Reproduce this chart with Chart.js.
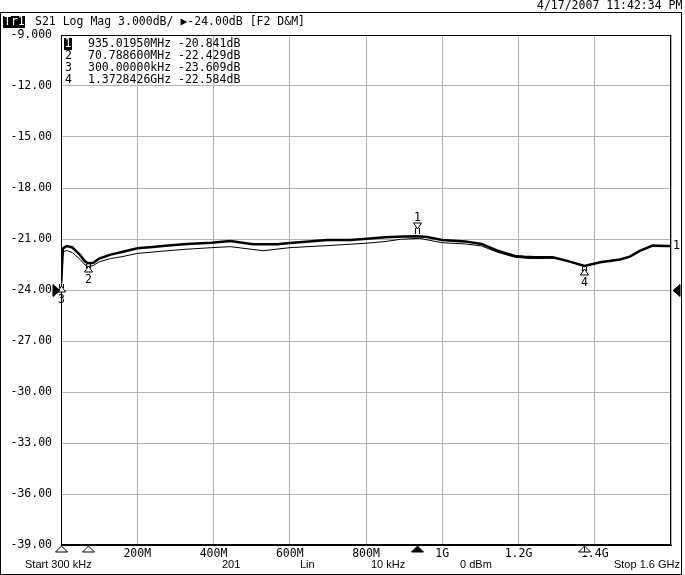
<!doctype html>
<html>

<head>
	<title>S21 Log Mag</title>
	<script src="https://cdn.jsdelivr.net/npm/chart.js@4"></script>
	<style>
		body { margin: 0; background: #fff; }
	</style>
</head>

<body>
	<canvas id="chart-area" width="685" height="575"></canvas>

	<script>
		// trace (data), MHz / dB
		const dataFreq = [0.3, 5, 15, 30, 50, 62, 70.8, 85, 100, 130, 160, 200, 240, 274, 330, 395, 444, 504, 567, 600,
			650, 698, 758, 802, 850, 900, 935, 960, 1000, 1060, 1103, 1145, 1190, 1215, 1244, 1290, 1335, 1373, 1414, 1466,
			1492, 1518, 1552, 1589, 1600];
		const dataDb = [-23.61, -21.55, -21.42, -21.5, -21.94, -22.3, -22.43, -22.4, -22.15, -21.92, -21.76, -21.55, -21.47, -21.4, -21.3, -21.22, -21.12, -21.31, -21.31, -21.24,
			-21.15, -21.06, -21.06, -20.98, -20.9, -20.86, -20.84, -20.88, -21.06, -21.14, -21.29, -21.69, -22.0, -22.05, -22.07, -22.07, -22.33, -22.58, -22.37, -22.2,
			-22.04, -21.7, -21.39, -21.41, -21.41];
		// memory trace
		const memFreq = [0.3, 5, 15, 30, 50, 62, 70.8, 85, 100, 130, 160, 200, 274, 330, 395, 444, 530, 600, 698, 800,
			850, 890, 940, 1000, 1060, 1103, 1145, 1190, 1230, 1270, 1300, 1335, 1373, 1414, 1466, 1492, 1518, 1552, 1589, 1600];
		const memDb = [-24.0, -21.75, -21.68, -21.8, -22.2, -22.5, -22.63, -22.55, -22.35, -22.15, -22.04, -21.85, -21.7, -21.6, -21.51, -21.45, -21.69, -21.51, -21.39, -21.25,
			-21.15, -21.02, -20.96, -21.22, -21.29, -21.41, -21.78, -22.07, -22.15, -22.15, -22.12, -22.35, -22.6, -22.38, -22.21, -22.05, -21.71, -21.4, -21.42, -21.42];

		const markerFreq = [935.0195, 70.7886, 0.3, 1372.8426];
		const markerDb = [-20.841, -22.429, -23.609, -22.584];
		const markerLabels = ['935.01950MHz -20.841dB', '70.788600MHz -22.429dB', '300.00000kHz -23.609dB', '1.3728426GHz -22.584dB'];

		const xTickLabels = { 200: '200M', 400: '400M', 600: '600M', 800: '800M', 1000: '1G', 1200: '1.2G', 1400: '1.4G' };
		const footerLeft = [['Start 300 kHz', 25], ['201', 222], ['Lin', 300], ['10 kHz', 371], ['0 dBm', 460]];
		const footerRight = 'Stop 1.6 GHz';

		const mono = '"DejaVu Sans Mono", monospace';
		const refLevel = -24;

		function tri(ctx, pts, fill) {
			ctx.beginPath();
			ctx.moveTo(pts[0][0], pts[0][1]);
			ctx.lineTo(pts[1][0], pts[1][1]);
			ctx.lineTo(pts[2][0], pts[2][1]);
			ctx.closePath();
			ctx.fillStyle = fill;
			ctx.fill();
			ctx.stroke();
		}

		const analyzerFrame = {
			id: 'analyzerFrame',
			afterDraw(chart) {
				const ctx = chart.ctx;
				const a = chart.chartArea;
				const xs = chart.scales.x, ys = chart.scales.y;
				ctx.save();
				ctx.strokeStyle = '#000';
				ctx.lineWidth = 1;
				ctx.strokeRect(0.5, 12.5, 681, 562);
				ctx.strokeRect(Math.round(a.left) + 0.5, Math.round(a.top) + 0.5, Math.round(a.right - a.left) - 1, Math.round(a.bottom - a.top) - 1);

				ctx.font = '11.5px ' + mono;
				ctx.textBaseline = 'middle';
				ctx.textAlign = 'left';
				ctx.fillStyle = '#000';
				ctx.fillText('4/17/2007 11:42:34 PM', 537, 6);

				// header
				ctx.fillRect(3, 16, 22, 12);
				ctx.fillStyle = '#fff';
				ctx.fillText('Tr1', 4, 22.5);
				ctx.fillStyle = '#000';
				ctx.fillText('S21 Log Mag 3.000dB/ \u25B6-24.00dB [F2 D&M]', 35, 22.5);

				// marker table
				markerLabels.forEach((t, i) => {
					const y = 44 + i * 12;
					if (i === 0) {
						ctx.fillRect(64, y - 6, 8, 12);
						ctx.fillStyle = '#fff';
						ctx.fillText(String(i + 1), 64.5, y);
						ctx.fillStyle = '#000';
					} else {
						ctx.fillText(String(i + 1), 65, y);
					}
					ctx.fillText(t, 88, y);
				});

				// markers on the trace
				ctx.textAlign = 'center';
				markerFreq.forEach((f, i) => {
					const px = Math.round(xs.getPixelForValue(f)) + 0.5;
					const py = Math.round(ys.getPixelForValue(markerDb[i]));
					ctx.beginPath();
					if (i === 0) {
						ctx.moveTo(px - 2, py - 2); ctx.lineTo(px - 2, py - 8);
						ctx.moveTo(px + 2, py - 2); ctx.lineTo(px + 2, py - 8);
						ctx.stroke();
						tri(ctx, [[px - 4, py - 13], [px + 4, py - 13], [px, py - 7]], '#fff');
						ctx.fillStyle = '#000';
						ctx.fillText(String(i + 1), px, py - 18);
					} else {
						ctx.moveTo(px - 2, py + 1); ctx.lineTo(px - 2, py + 5);
						ctx.moveTo(px + 2, py + 1); ctx.lineTo(px + 2, py + 5);
						ctx.stroke();
						tri(ctx, [[px, py + 3], [px + 4, py + 9], [px - 4, py + 9]], '#fff');
						ctx.fillStyle = '#000';
						ctx.fillText(String(i + 1), px, py + 17);
					}
					// marker flag under the grid
					const by = Math.round(a.bottom) + 1;
					ctx.fillStyle = '#fff';
					ctx.fillRect(px - 7.5, by, i === 3 ? 18 : 15, 9);
					tri(ctx, [[px, by], [px + 6, by + 6], [px - 6, by + 6]], i === 0 ? '#000' : '#fff');
					if (i === 3) {
						ctx.beginPath();
						ctx.moveTo(px, by); ctx.lineTo(px, by + 6);
						ctx.stroke();
					}
				});

				// reference level arrows
				const ry = Math.round(ys.getPixelForValue(refLevel)) + 0.5;
				tri(ctx, [[53, ry - 6], [60, ry], [53, ry + 6]], '#000');
				tri(ctx, [[680, ry - 6], [673, ry], [680, ry + 6]], '#000');

				// trace end label
				ctx.fillStyle = '#000';
				ctx.textAlign = 'left';
				ctx.fillText('1', 673, ys.getPixelForValue(dataDb[dataDb.length - 1]));

				// footer
				ctx.font = '11px "Liberation Sans", sans-serif';
				footerLeft.forEach(([t, x]) => ctx.fillText(t, x, 565));
				ctx.textAlign = 'right';
				ctx.fillText(footerRight, 680, 565);
				ctx.restore();
			}
		};

		const ctx2d = document.getElementById('chart-area').getContext('2d');
		window.myChart = new Chart(ctx2d, {
			type: 'line',
			data: {
				datasets: [{
					label: 'Memory',
					data: memFreq.map((f, i) => ({ x: f, y: memDb[i] })),
					borderColor: '#000',
					borderWidth: 1,
					pointRadius: 0,
					tension: 0
				}, {
					label: 'S21',
					data: dataFreq.map((f, i) => ({ x: f, y: dataDb[i] })),
					borderColor: '#000',
					borderWidth: 2.5,
					pointRadius: 0,
					tension: 0
				}]
			},
			options: {
				responsive: false,
				animation: false,
				layout: { padding: { top: 35, right: 14, left: 0, bottom: 0 } },
				plugins: {
					legend: { display: false },
					tooltip: { enabled: false }
				},
				scales: {
					x: {
						type: 'linear',
						min: 0,
						max: 1600,
						afterFit(s) { s.height = 30; },
						grid: { color: '#b4b4b4', drawTicks: false },
						border: { color: '#000' },
						ticks: {
							stepSize: 200,
							autoSkip: false,
							maxRotation: 0,
							padding: 2,
							color: '#000',
							font: { family: mono, size: 11.5 },
							callback: v => xTickLabels[v] || ''
						}
					},
					y: {
						min: -39,
						max: -9,
						afterFit(s) { s.width = 61; },
						grid: { color: '#b4b4b4', drawTicks: false },
						border: { color: '#000' },
						ticks: {
							stepSize: 3,
							padding: 9,
							color: '#000',
							font: { family: mono, size: 11.5 },
							callback: v => v === -9 ? '-9.000' : v.toFixed(2)
						}
					}
				}
			},
			plugins: [analyzerFrame]
		});
	</script>
</body>
</html>
